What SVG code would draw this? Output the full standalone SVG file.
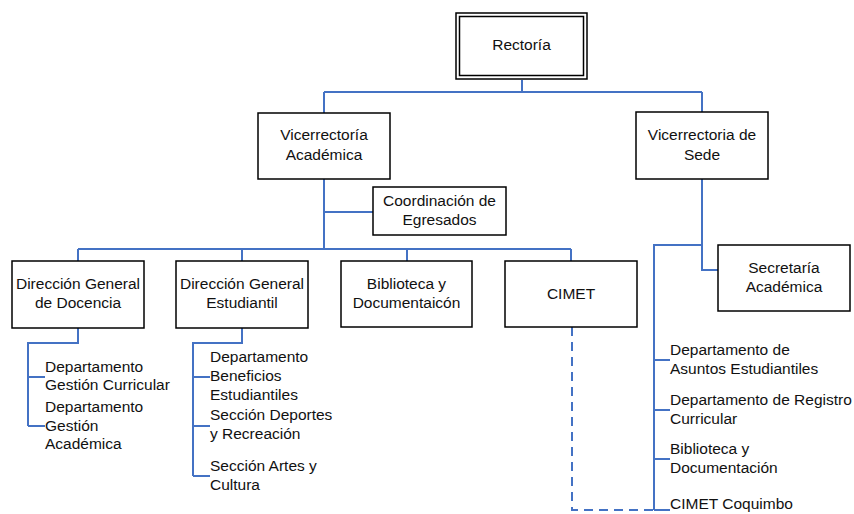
<svg xmlns="http://www.w3.org/2000/svg" width="854" height="514" viewBox="0 0 854 514">
  <style>
    .box { fill: #ffffff; stroke: #000000; stroke-width: 1.5; }
    .conn { fill: none; stroke: #4472c4; stroke-width: 2; }
    .dash { stroke-dasharray: 9 6; }
    text { font-family: "Liberation Sans", Arial, sans-serif; font-size: 15.5px; fill: #111111; }
    .c { text-anchor: middle; }
  </style>
  <rect width="854" height="514" fill="#ffffff"/>

  <!-- connectors -->
  <g id="connectors">
    <path class="conn" d="M522 80 V92 M324 92 H702 M324 92 V113 M702 92 V112"/>
    <path class="conn" d="M324 179 V249 M324 212 H373 M78 249 H571 M78 249 V261 M242 249 V261 M407 249 V261 M571 249 V261"/>
    <path class="conn" d="M78 328 V343 H28 V426 M28 377 H45 M28 426 H45"/>
    <path class="conn" d="M242 328 V343 H193 V476 M193 377 H210 M193 426 H210 M193 476 H210"/>
    <path class="conn" d="M702 179 V270 H718 M702 245 H654 V510 M654 360 H670 M654 410 H670 M654 459 H670 M654 510 H670"/>
    <path class="conn dash" d="M572 327 V510 H654"/>
  </g>

  <g id="rectoria">
    <rect class="box" x="456" y="13" width="131" height="66"/>
    <rect class="box" x="459.5" y="16.5" width="124" height="59"/>
    <text class="c" x="521.5" y="50">Rectoría</text>
  </g>

  <g id="vicerrectoria-academica">
    <rect class="box" x="258" y="113" width="132" height="66"/>
    <text class="c" x="324" y="140">Vicerrectoría</text>
    <text class="c" x="324" y="160">Académica</text>
  </g>

  <g id="vicerrectoria-sede">
    <rect class="box" x="636" y="112" width="132" height="67"/>
    <text class="c" x="702" y="140">Vicerrectoria de</text>
    <text class="c" x="702" y="160">Sede</text>
  </g>

  <g id="coordinacion-egresados">
    <rect class="box" x="373" y="187" width="133" height="48"/>
    <text class="c" x="439.5" y="206">Coordinación de</text>
    <text class="c" x="439.5" y="225">Egresados</text>
  </g>

  <g id="dg-docencia">
    <rect class="box" x="12" y="261" width="132" height="67"/>
    <text class="c" x="78" y="289">Dirección General</text>
    <text class="c" x="78" y="308">de Docencia</text>
  </g>

  <g id="dg-estudiantil">
    <rect class="box" x="176" y="261" width="132" height="67"/>
    <text class="c" x="242" y="289">Dirección General</text>
    <text class="c" x="242" y="308">Estudiantil</text>
  </g>

  <g id="biblioteca">
    <rect class="box" x="341" y="261" width="131" height="66"/>
    <text class="c" x="406.5" y="289">Biblioteca y</text>
    <text class="c" x="406.5" y="308">Documentaicón</text>
  </g>

  <g id="cimet">
    <rect class="box" x="505" y="261" width="132" height="66"/>
    <text class="c" x="571" y="299">CIMET</text>
  </g>

  <g id="secretaria-academica">
    <rect class="box" x="718" y="245" width="132" height="66"/>
    <text class="c" x="784" y="273">Secretaría</text>
    <text class="c" x="784" y="292">Académica</text>
  </g>

  <g id="docencia-units">
    <text x="45" y="372">Departamento</text>
    <text x="45" y="390">Gestión Curricular</text>
    <text x="45" y="412">Departamento</text>
    <text x="45" y="431">Gestión</text>
    <text x="45" y="449">Académica</text>
  </g>

  <g id="estudiantil-units">
    <text x="210" y="362">Departamento</text>
    <text x="210" y="381">Beneficios</text>
    <text x="210" y="400">Estudiantiles</text>
    <text x="210" y="420">Sección Deportes</text>
    <text x="210" y="439">y Recreación</text>
    <text x="210" y="471">Sección Artes y</text>
    <text x="210" y="490">Cultura</text>
  </g>

  <g id="sede-units">
    <text x="670" y="355">Departamento de</text>
    <text x="670" y="374">Asuntos Estudiantiles</text>
    <text x="670" y="405">Departamento de Registro</text>
    <text x="670" y="424">Curricular</text>
    <text x="670" y="454">Biblioteca y</text>
    <text x="670" y="473">Documentación</text>
    <text x="670" y="509">CIMET Coquimbo</text>
  </g>
</svg>
